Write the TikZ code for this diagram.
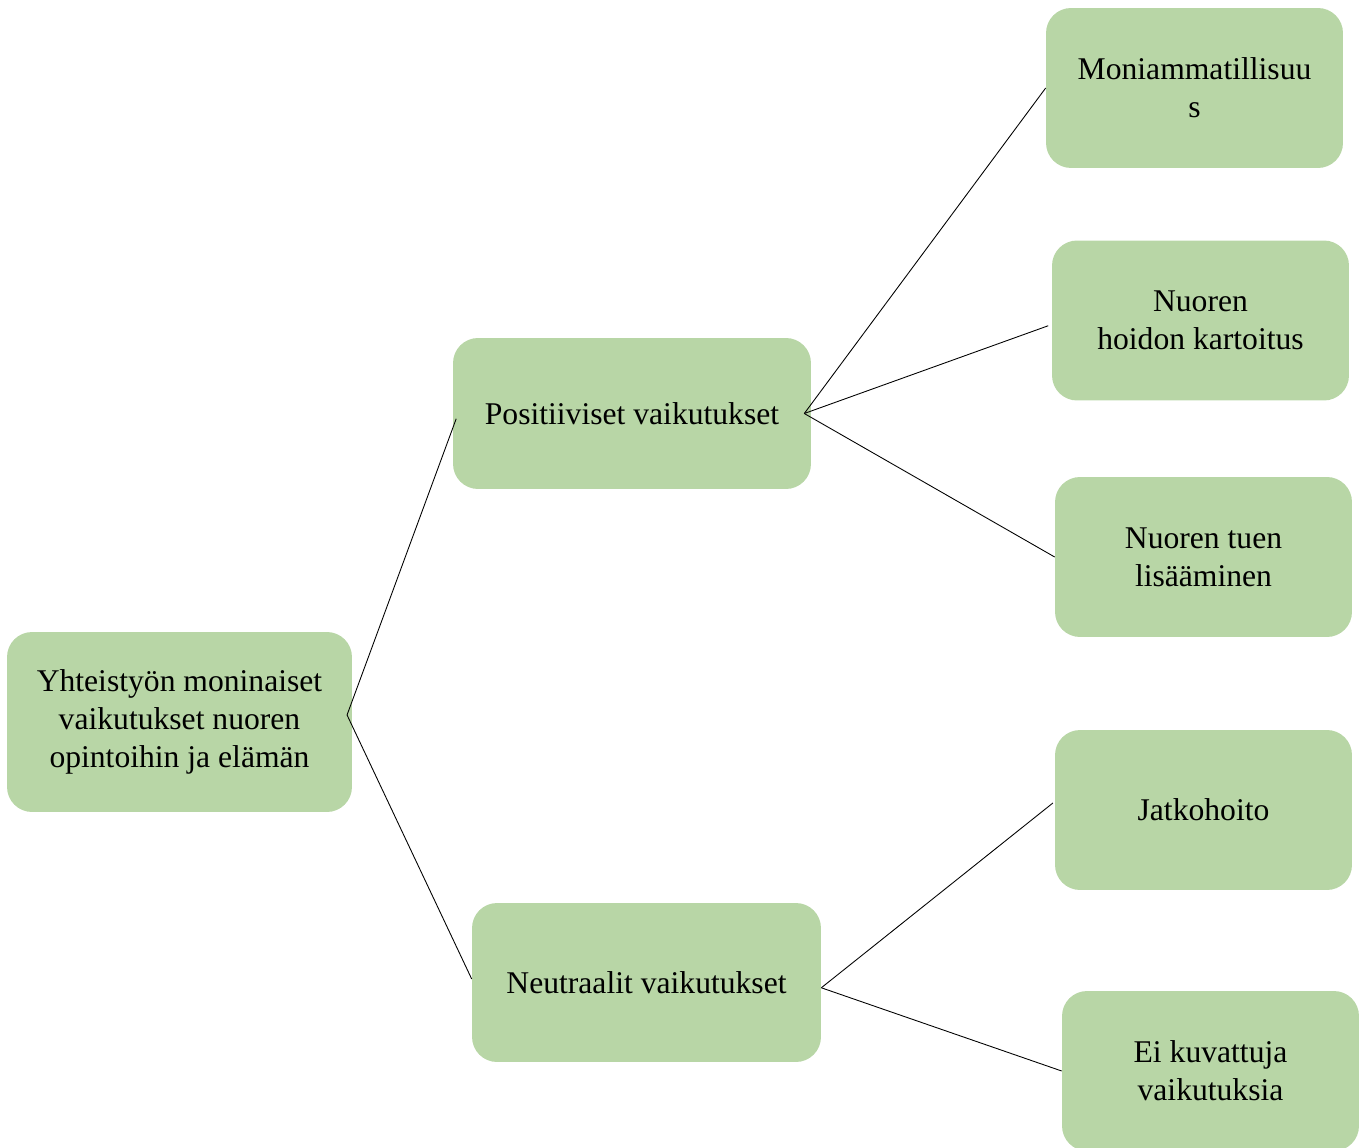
\documentclass[tikz,border=0pt]{standalone}
\usepackage{fontspec}
\setmainfont{Liberation Serif}
\usetikzlibrary{positioning}

\definecolor{boxgreen}{HTML}{B8D6A6}

\tikzset{
    box/.style={fill=boxgreen, rounded corners=0.5cm, align=center,
        inner sep=0pt, font=\fontsize{18}{21.5}\selectfont},
    leaf/.style={box, minimum width=5.94cm, minimum height=3.2cm},
    link/.style={draw=black, line width=0.5pt}
}

\begin{document}
\begin{tikzpicture}[x=0.02cm, y=-0.02cm]
\useasboundingbox (0,0) rectangle (1365,1148);

\node[box, minimum width=6.9cm, minimum height=3.6cm] (root) at (179.5,722)
    {Yhteisty\"on moninaiset\\vaikutukset nuoren\\opintoihin ja el\"am\"an};

\node[box, minimum width=7.16cm, minimum height=3.02cm] (pos) at (632,413.5)
    {Positiiviset vaikutukset};
\node[box, minimum width=6.98cm, minimum height=3.18cm] (neu) at (646.5,982.5)
    {Neutraalit vaikutukset};

\node[leaf] (moni)   at (1194.5,88)    {Moniammatillisuu\\s};
\node[leaf] (hoito)  at (1200.5,320.5) {Nuoren\\ hoidon kartoitus};
\node[leaf] (tuki)   at (1203.5,557)   {Nuoren tuen\\lis\"a\"aminen};
\node[leaf] (jatko)  at (1203.5,810)   {Jatkohoito};
\node[leaf] (eikuv)  at (1210.5,1071)  {Ei kuvattuja\\vaikutuksia};

\draw[link] ([xshift=-3pt, yshift=4pt] root.east) -- ([xshift=2pt, yshift=-3pt] pos.west);
\draw[link] ([xshift=-3pt, yshift=4pt] root.east) -- ([yshift=2pt] neu.west);

\draw[link] ([xshift=-4pt] pos.east) -- (moni.west);
\draw[link] ([xshift=-4pt] pos.east) -- ([xshift=-2pt, yshift=-3pt] hoito.west);
\draw[link] ([xshift=-4pt] pos.east) -- (tuki.west);

\draw[link] ([yshift=-3pt] neu.east) -- ([xshift=-1pt, yshift=4pt] jatko.west);
\draw[link] ([yshift=-3pt] neu.east) -- (eikuv.west);
\end{tikzpicture}
\end{document}
